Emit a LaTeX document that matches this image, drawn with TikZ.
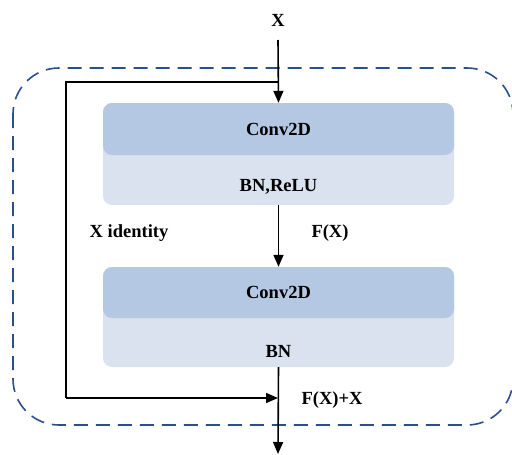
\documentclass[tikz,border=0pt]{standalone}
\usepackage{fontspec}
\setmainfont{Liberation Serif}
\usetikzlibrary{positioning}
\usetikzlibrary{arrows.meta}
\definecolor{convblue}{HTML}{B4C8E4}
\definecolor{bnblue}{HTML}{D9E2EE}
\definecolor{dashblue}{HTML}{2B4F8C}

\begin{document}
\begin{tikzpicture}[x=1pt, y=-1pt,
		blk/.style = {rectangle, rounded corners=9pt, fill=bnblue, minimum width=351pt, inner sep=0pt},
		cv/.style = {rectangle, rounded corners=9pt, fill=convblue, minimum width=351pt, inner sep=0pt, font=\bfseries\fontsize{18.5}{21}\selectfont},
		t/.style = {font=\bfseries\fontsize{18.5}{21}\selectfont},
		r/.style = {-{Triangle[length=12pt,width=10pt]}, line width=1.6pt}
		]
		\clip (0,0) rectangle (512,455);
		\useasboundingbox (0,0) rectangle (512,455);
		
		%Frame
		\draw[dashblue, line width=1.6pt, dash pattern=on 14pt off 8pt, rounded corners=46pt] (13,68) rectangle (513,425);
		
		%Nodes
		\node[blk, minimum height=102pt]	(blk1)	at	(278.5,154)	{};
		\node[cv, minimum height=52pt, anchor=north]	(conv1)	at	(blk1.north)	{Conv2D};
		\node[t]	(bn1)	at	(278.5,187)	{BN,ReLU};
		\node[blk, minimum height=100pt]	(blk2)	at	(278.5,317)	{};
		\node[cv, minimum height=51pt, anchor=north]	(conv2)	at	(blk2.north)	{Conv2D};
		\node[t]	(bn2)	at	(278.5,351)	{BN};
		
		\node[t]	(x)		at	(278,20)	{X};
		\node[t]	(xid)	at	(129,233)	{X identity};
		\node[t]	(fx)	at	(330,233)	{F(X)};
		\node[t]	(fxx)	at	(332,400)	{F(X)+X};
		
		\coordinate	(in)	at	(278,40);
		\coordinate	(split)	at	(278,82);
		\coordinate	(tl)	at	(66,82);
		\coordinate	(bl)	at	(66,398);
		\coordinate	(add)	at	(278,398);
		\coordinate	(out)	at	(278,454);
		
		%Lines
		\draw[r]	(in)	--	(blk1.north);
		\draw[line width=1.6pt]	(split)	--	(tl)	--	(bl);
		\draw[r]	(bl)	--	(add);
		\draw[r]	(blk1.south)	--	(blk2.north);
		\draw[r]	(blk2.south)	--	(out);
	\end{tikzpicture}
\end{document}
